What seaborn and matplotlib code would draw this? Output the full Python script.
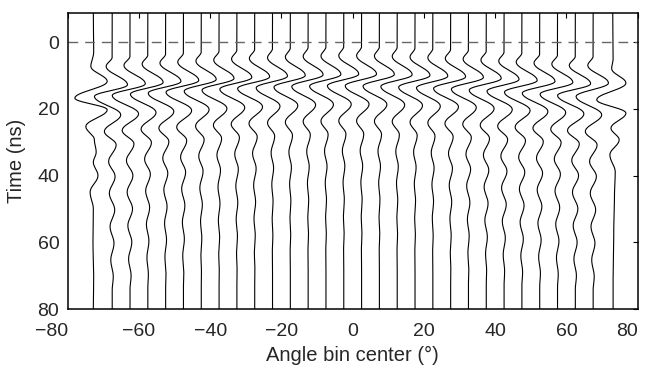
import numpy as np
import pandas as pd
import matplotlib
matplotlib.use("Agg")
import matplotlib.pyplot as plt
import seaborn as sns

# ---- data -----------------------------------------------------------------
# trace base positions (angle bin centres, degrees)
bin_centers = [-72.5, -67.5, -62.5, -57.5, -52.5, -47.5, -42.5, -37.5, -32.5, -27.5,
               -22.5, -17.5, -12.5, -7.5, -2.5, 2.5, 7.5, 12.5, 17.5, 22.5,
               27.5, 32.5, 37.5, 42.5, 47.5, 52.5, 57.5, 62.5, 67.5, 72.5]

# extrema of each wiggle: times (ns) and horizontal deflections (degrees)
peak_times = [
    [-9.0, 3.0, 7.3, 11.8, 16.8, 20.3, 25.3, 29.3, 33.0, 36.0, 40.0, 45.0, 50.0, 60.0, 70.0, 80.0],
    [7.3, 12.8, 16.3, 21.8, 26.8, 30.8, 35.8, 40.3, 45.3, 50.3, 55.3, 60.3, 65.3, 70.3],
    [7.0, 12.5, 16.0, 21.5, 26.5, 30.5, 35.5, 40.0, 45.0, 50.0, 55.0, 60.0, 65.0, 70.0],
    [6.6, 12.1, 15.6, 21.1, 26.1, 30.1, 35.1, 39.6, 44.6, 49.6, 54.6, 59.6, 64.6, 69.6],
    [6.3, 11.8, 15.3, 20.8, 25.8, 29.8, 34.8, 39.3, 44.3, 49.3, 54.3, 59.3, 64.3, 69.3],
    [6.0, 11.5, 15.0, 20.5, 25.5, 29.5, 34.5, 39.0, 44.0, 49.0, 54.0, 59.0, 64.0, 69.0],
    [5.7, 11.2, 14.7, 20.2, 25.2, 29.2, 34.2, 38.7, 43.7, 48.7, 53.7, 58.7, 63.7, 68.7],
    [5.4, 10.9, 14.4, 19.9, 24.9, 28.9, 33.9, 38.4, 43.4, 48.4, 53.4, 58.4, 63.4, 68.4],
    [5.1, 10.6, 14.1, 19.6, 24.6, 28.6, 33.6, 38.1, 43.1, 48.1, 53.1, 58.1, 63.1, 68.1],
    [4.9, 10.4, 13.9, 19.4, 24.4, 28.4, 33.4, 37.9, 42.9, 47.9, 52.9, 57.9, 62.9, 67.9],
    [4.7, 10.2, 13.7, 19.2, 24.2, 28.2, 33.2, 37.7, 42.7, 47.7, 52.7, 57.7, 62.7, 67.7],
    [4.5, 10.0, 13.5, 19.0, 24.0, 28.0, 33.0, 37.5, 42.5, 47.5, 52.5, 57.5, 62.5, 67.5],
    [4.3, 9.8, 13.3, 18.8, 23.8, 27.8, 32.8, 37.3, 42.3, 47.3, 52.3, 57.3, 62.3, 67.3],
    [4.2, 9.7, 13.2, 18.7, 23.7, 27.7, 32.7, 37.2, 42.2, 47.2, 52.2, 57.2, 62.2, 67.2],
    [4.1, 9.6, 13.1, 18.6, 23.6, 27.6, 32.6, 37.1, 42.1, 47.1, 52.1, 57.1, 62.1, 67.1],
    [4.1, 9.6, 13.1, 18.6, 23.6, 27.6, 32.6, 37.1, 42.1, 47.1, 52.1, 57.1, 62.1, 67.1],
    [4.2, 9.7, 13.2, 18.7, 23.7, 27.7, 32.7, 37.2, 42.2, 47.2, 52.2, 57.2, 62.2, 67.2],
    [4.3, 9.8, 13.3, 18.8, 23.8, 27.8, 32.8, 37.3, 42.3, 47.3, 52.3, 57.3, 62.3, 67.3],
    [4.5, 10.0, 13.5, 19.0, 24.0, 28.0, 33.0, 37.5, 42.5, 47.5, 52.5, 57.5, 62.5, 67.5],
    [4.7, 10.2, 13.7, 19.2, 24.2, 28.2, 33.2, 37.7, 42.7, 47.7, 52.7, 57.7, 62.7, 67.7],
    [4.9, 10.4, 13.9, 19.4, 24.4, 28.4, 33.4, 37.9, 42.9, 47.9, 52.9, 57.9, 62.9, 67.9],
    [5.1, 10.6, 14.1, 19.6, 24.6, 28.6, 33.6, 38.1, 43.1, 48.1, 53.1, 58.1, 63.1, 68.1],
    [5.4, 10.9, 14.4, 19.9, 24.9, 28.9, 33.9, 38.4, 43.4, 48.4, 53.4, 58.4, 63.4, 68.4],
    [5.7, 11.2, 14.7, 20.2, 25.2, 29.2, 34.2, 38.7, 43.7, 48.7, 53.7, 58.7, 63.7, 68.7],
    [6.0, 11.5, 15.0, 20.5, 25.5, 29.5, 34.5, 39.0, 44.0, 49.0, 54.0, 59.0, 64.0, 69.0],
    [6.3, 11.8, 15.3, 20.8, 25.8, 29.8, 34.8, 39.3, 44.3, 49.3, 54.3, 59.3, 64.3, 69.3],
    [6.6, 12.1, 15.6, 21.1, 26.1, 30.1, 35.1, 39.6, 44.6, 49.6, 54.6, 59.6, 64.6, 69.6],
    [7.0, 12.5, 16.0, 21.5, 26.5, 30.5, 35.5, 40.0, 45.0, 50.0, 55.0, 60.0, 65.0, 70.0],
    [7.0, 12.3, 16.3, 21.8, 26.8, 30.8, 35.8, 40.3, 45.3, 50.3, 55.3, 60.3, 65.3, 70.3],
    [-9.0, 5.0, 8.0, 12.3, 17.3, 21.3, 25.8, 29.3, 33.8, 39.0, 45.0, 55.0, 70.0, 80.0],
]

peak_defl = [
    [-0.3, -0.2, -1.0, 3.6, -5.5, 3.6, -2.4, 0.0, 0.5, -0.3, 1.0, -1.2, -0.3, -0.4, -0.2, -0.3],
    [-1.7, 4.3, -5.0, 2.4, -2.2, 1.1, -1.0, 0.8, -0.8, 0.7, -0.6, 0.5, -0.4, 0.3],
    [-1.7, 4.3, -5.0, 2.4, -2.2, 1.1, -1.0, 0.8, -0.8, 0.7, -0.6, 0.5, -0.4, 0.3],
    [-1.6, 4.3, -4.9, 2.3, -1.9, 1.0, -0.9, 0.7, -0.6, 0.5, -0.4, 0.3, -0.25, 0.15],
    [-1.6, 4.3, -4.9, 2.3, -1.9, 0.9, -0.8, 0.6, -0.5, 0.4, -0.3, 0.25, -0.2, 0.1],
    [-1.6, 4.3, -4.9, 2.3, -1.9, 0.9, -0.8, 0.6, -0.5, 0.4, -0.3, 0.25, -0.2, 0.1],
    [-1.5, 4.2, -4.8, 2.2, -1.6, 0.8, -0.7, 0.5, -0.4, 0.3, -0.2, 0.15, -0.1, 0.05],
    [-1.5, 4.2, -4.8, 2.2, -1.6, 0.7, -0.6, 0.4, -0.3, 0.25, -0.2, 0.15, -0.1, 0.05],
    [-1.5, 4.2, -4.8, 2.2, -1.6, 0.7, -0.6, 0.4, -0.3, 0.25, -0.2, 0.15, -0.1, 0.05],
    [-1.5, 4.2, -4.8, 2.2, -1.6, 0.7, -0.6, 0.4, -0.3, 0.25, -0.2, 0.15, -0.1, 0.05],
    [-1.4, 4.2, -4.6, 2.1, -1.4, 0.6, -0.4, 0.3, -0.2, 0.15, -0.1, 0.1, -0.05, 0.0],
    [-1.4, 4.2, -4.6, 2.1, -1.4, 0.6, -0.4, 0.3, -0.2, 0.15, -0.1, 0.1, -0.05, 0.0],
    [-1.4, 4.2, -4.6, 2.1, -1.4, 0.6, -0.4, 0.3, -0.2, 0.15, -0.1, 0.1, -0.05, 0.0],
    [-1.4, 4.2, -4.6, 2.1, -1.4, 0.6, -0.4, 0.3, -0.2, 0.15, -0.1, 0.1, -0.05, 0.0],
    [-1.4, 4.2, -4.6, 2.1, -1.4, 0.6, -0.4, 0.3, -0.2, 0.15, -0.1, 0.1, -0.05, 0.0],
    [-1.4, 4.2, -4.6, 2.1, -1.4, 0.6, -0.4, 0.3, -0.2, 0.15, -0.1, 0.1, -0.05, 0.0],
    [-1.4, 4.2, -4.6, 2.1, -1.4, 0.6, -0.4, 0.3, -0.2, 0.15, -0.1, 0.1, -0.05, 0.0],
    [-1.4, 4.2, -4.6, 2.1, -1.4, 0.6, -0.4, 0.3, -0.2, 0.15, -0.1, 0.1, -0.05, 0.0],
    [-1.4, 4.2, -4.6, 2.1, -1.4, 0.6, -0.4, 0.3, -0.2, 0.15, -0.1, 0.1, -0.05, 0.0],
    [-1.4, 4.2, -4.6, 2.1, -1.4, 0.6, -0.45, 0.35, -0.25, 0.2, -0.15, 0.1, -0.05, 0.0],
    [-1.5, 4.2, -4.8, 2.2, -1.6, 0.7, -0.6, 0.5, -0.4, 0.3, -0.2, 0.15, -0.1, 0.05],
    [-1.5, 4.2, -4.8, 2.2, -1.6, 0.8, -0.7, 0.6, -0.5, 0.4, -0.3, 0.2, -0.15, 0.1],
    [-1.5, 4.2, -4.8, 2.2, -1.7, 0.9, -0.8, 0.7, -0.6, 0.5, -0.4, 0.3, -0.2, 0.1],
    [-1.5, 4.2, -4.8, 2.3, -1.8, 1.0, -0.9, 0.8, -0.7, 0.6, -0.5, 0.35, -0.25, 0.15],
    [-1.6, 4.3, -4.9, 2.3, -1.9, 1.0, -0.9, 0.8, -0.7, 0.6, -0.5, 0.4, -0.3, 0.2],
    [-1.6, 4.3, -4.9, 2.3, -1.9, 1.0, -0.9, 0.8, -0.7, 0.6, -0.5, 0.4, -0.3, 0.2],
    [-1.6, 4.3, -4.9, 2.3, -1.9, 1.0, -0.9, 0.8, -0.7, 0.6, -0.5, 0.4, -0.3, 0.2],
    [-1.7, 4.3, -5.0, 2.4, -2.2, 1.1, -1.0, 0.9, -0.8, 0.7, -0.6, 0.5, -0.4, 0.3],
    [-1.5, 4.3, -4.8, 2.4, -2.2, 1.1, -1.0, 0.9, -0.8, 0.7, -0.6, 0.5, -0.4, 0.3],
    [0.5, 0.6, 0.2, 4.2, -4.0, 4.2, 0.0, 2.3, -0.3, 1.2, 1.0, 0.8, 0.6, 0.6],
]

x_ticks = [-80, -60, -40, -20, 0, 20, 40, 60, 80]
y_ticks = [0, 20, 40, 60, 80]
x_label = "Angle bin center (°)"
y_label = "Time (ns)"

# ---- build smooth wiggle lines through the read extrema ---------------------
T_TOP, T_BOT = -9.0, 80.0
rows = []
for k, (c, tt, aa) in enumerate(zip(bin_centers, peak_times, peak_defl)):
    tt = list(tt)
    aa = list(aa)
    if tt[0] > T_TOP:  # quiet lead-in and tail at the baseline
        lead = tt[0] - 2.8
        tt = [T_TOP, lead] + tt + [tt[-1] + 4.0, T_BOT]
        aa = [0.0, 0.0] + aa + [0.0, 0.0]
    ts, xs = [], []
    for i in range(len(tt) - 1):
        s = np.linspace(0, 1, 12, endpoint=False)
        ts.extend(tt[i] + (tt[i + 1] - tt[i]) * s)
        xs.extend(aa[i] + (aa[i + 1] - aa[i]) * (1 - np.cos(np.pi * s)) / 2)
    ts.append(tt[-1]); xs.append(aa[-1])
    for t, x in zip(ts, xs):
        rows.append({"trace": k, "time": t, "angle": c + x})
df = pd.DataFrame(rows)

# ---- plot ------------------------------------------------------------------
sns.set_style("white")
plt.rcParams["font.family"] = ["Liberation Sans", "DejaVu Sans"]

fig = plt.figure(figsize=(6.47, 3.66), dpi=100)
ax = fig.add_axes([0.1046, 0.1557, 0.881, 0.8088])

sns.lineplot(data=df, x="angle", y="time", units="trace", estimator=None,
             sort=False, color="black", linewidth=0.8, ax=ax, legend=False)
ax.axhline(0, color="0.4", linewidth=1.0, dashes=(7, 5))

ax.set_xlim(-80, 80)
ax.set_ylim(80, -8.7)
ax.set_xticks(x_ticks)
ax.set_xticklabels([f"{v:d}".replace("-", "\u2212") for v in x_ticks])
ax.set_yticks(y_ticks)
ax.set_xlabel(x_label, fontsize=14.5, labelpad=4)
ax.set_ylabel(y_label, fontsize=14.5, labelpad=8)
ax.tick_params(axis="both", which="both", direction="in", length=3.5, width=0.8,
               top=True, right=True, labelsize=14, pad=6, color="black")
ax.tick_params(axis="x", pad=10)
xlabels = ax.get_xticklabels()
xlabels[0].set_horizontalalignment("right")
xlabels[-1].set_horizontalalignment("right")
for sp in ax.spines.values():
    sp.set_color("black")
    sp.set_linewidth(1.1)

fig.savefig("out.png", dpi=100)
